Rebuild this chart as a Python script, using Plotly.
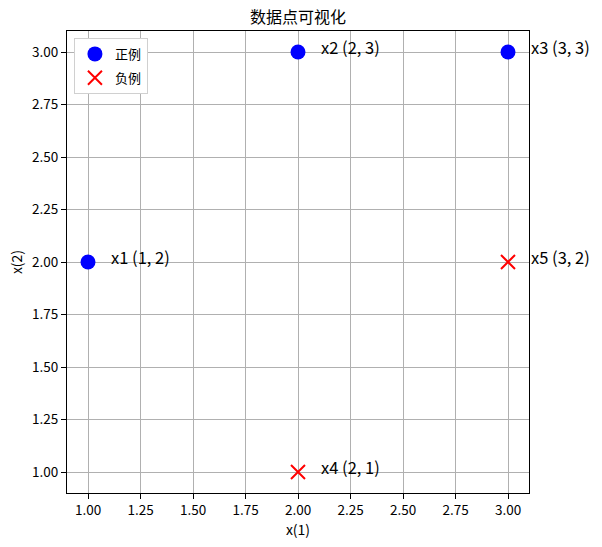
import plotly.graph_objects as go

pos_x = [1, 2, 3]
pos_y = [2, 3, 3]
neg_x = [2, 3]
neg_y = [1, 2]
labels = ["x1", "x2", "x3", "x4", "x5"]
all_x = pos_x + neg_x
all_y = pos_y + neg_y

FONT = "Noto Sans CJK SC"

fig = go.Figure()
fig.add_trace(go.Scatter(x=pos_x, y=pos_y, mode="markers", name="正例", legendgroup="p",
                         marker=dict(color="blue", size=15, symbol="circle")))
fig.add_trace(go.Scatter(x=neg_x, y=neg_y, mode="markers", name="负例", legendgroup="n",
                         marker=dict(color="red", size=14, symbol="x-thin",
                                     line=dict(color="red", width=2))))

for lab, xv, yv in zip(labels, all_x, all_y):
    fig.add_annotation(x=xv + 0.1, y=yv, xref="x", yref="y",
                       text=f"{lab} ({xv}, {yv})", showarrow=False,
                       xanchor="left", yanchor="middle", yshift=5,
                       font=dict(family=FONT, size=16.5, color="black"))

axis_common = dict(showgrid=True, gridcolor="#b0b0b0", gridwidth=1,
                   showline=True, linecolor="black", linewidth=1, mirror=True,
                   ticks="outside", ticklen=5, tickcolor="black",
                   zeroline=False, layer="above traces", automargin=False,
                   tickfont=dict(family=FONT, size=13.5, color="black"),
                   tickformat=".2f", dtick=0.25)

fig.update_xaxes(range=[0.9, 3.1], title=dict(text="x(1)", font=dict(family=FONT, size=14, color="black"), standoff=6), tick0=1.0, **axis_common)
fig.update_yaxes(range=[0.9, 3.1], title=dict(text="x(2)", font=dict(family=FONT, size=14, color="black"), standoff=6), tick0=1.0, **axis_common)

fig.update_layout(
    width=602, height=547,
    margin=dict(l=67, r=73, t=31, b=54),
    paper_bgcolor="white", plot_bgcolor="white",
    title=dict(text="数据点可视化", x=0.5, xref="paper", xanchor="center",
               y=1 - 17 / 547, yanchor="middle",
               font=dict(family=FONT, size=16, color="black")),
    legend=dict(x=0.015, y=0.985, xanchor="left", yanchor="top",
                bgcolor="white", bordercolor="#d0d0d0", borderwidth=1,
                tracegroupgap=4,
                font=dict(family=FONT, size=13, color="black")),
    font=dict(family=FONT),
    showlegend=True,
)

fig.write_html("out.html", config={"displayModeBar": False},
               post_script="document.body.style.margin='0px';")
